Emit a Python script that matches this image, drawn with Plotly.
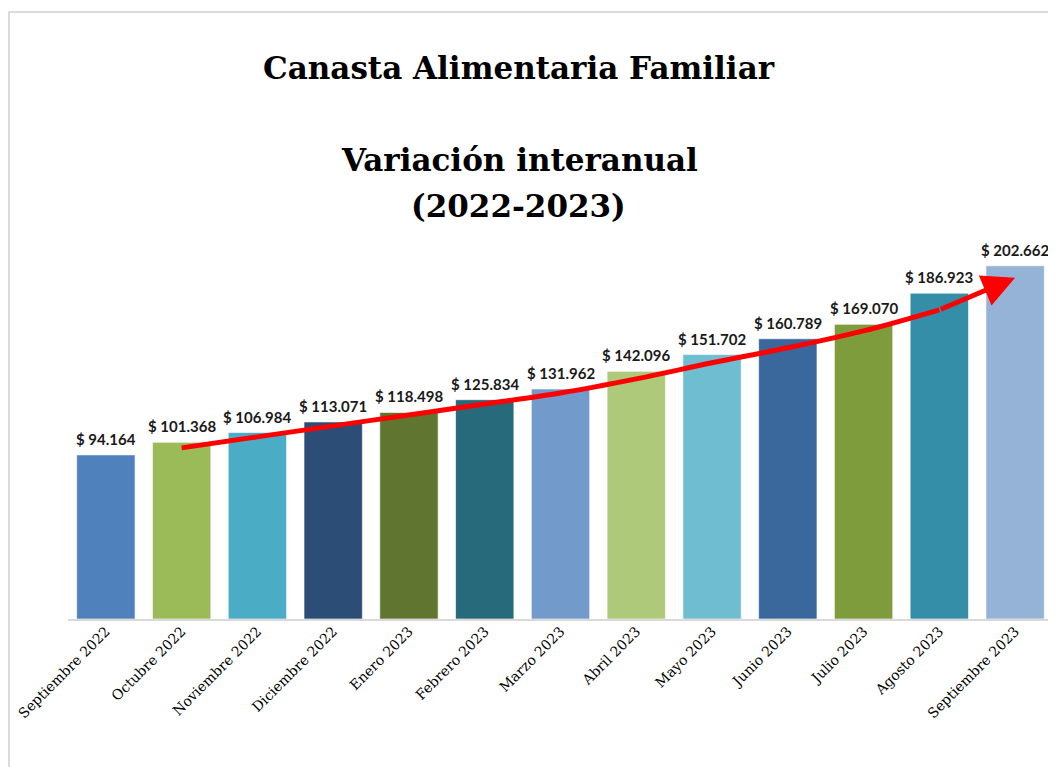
import plotly.graph_objects as go

categories = ["Septiembre 2022", "Octubre 2022", "Noviembre 2022", "Diciembre 2022",
              "Enero 2023", "Febrero 2023", "Marzo 2023", "Abril 2023", "Mayo 2023",
              "Junio 2023", "Julio 2023", "Agosto 2023", "Septiembre 2023"]
values = [94.164, 101.368, 106.984, 113.071, 118.498, 125.834, 131.962,
          142.096, 151.702, 160.789, 169.070, 186.923, 202.662]
labels = ["$ 94.164", "$ 101.368", "$ 106.984", "$ 113.071", "$ 118.498", "$ 125.834",
          "$ 131.962", "$ 142.096", "$ 151.702", "$ 160.789", "$ 169.070", "$ 186.923",
          "$ 202.662"]
bar_colors = ["#4F81BD", "#9BBB59", "#4BACC6", "#2C4D75", "#5F7530", "#276A7C",
              "#729ACA", "#AFC97A", "#6FBDD1", "#3A679C", "#7F9C3D", "#358EA7", "#95B3D7"]
# trend arrow, from Octubre 2022 to Septiembre 2023
trend_categories = categories[1:]
trend_values = [98.2, 104.5, 110.8, 117.1, 123.4, 129.7, 137.8, 147.0, 155.6, 165.3, 177.4, 195.8]

# page has an 8px body margin; figure is sized to fit the window
OFF = 8
W, H = 1056 - OFF, 767 - OFF
L, R, T, B = 68 - OFF, 3, 253 - OFF, 148
plot_w = W - L - R
plot_h = H - T - B

def px_x(x):  # window pixel -> paper
    return (x - OFF - L) / plot_w

def px_y(y):
    return (H - B - (y - OFF)) / plot_h

fig = go.Figure()
fig.add_trace(go.Bar(
    x=categories, y=values, marker=dict(color=bar_colors, line=dict(color="white", width=0.6)),
    width=0.77, showlegend=False, hoverinfo="skip",
))
for c, v, t in zip(categories, values, labels):
    fig.add_annotation(x=c, y=v, text=t, showarrow=False, xanchor="center", yanchor="bottom",
                       yshift=5, font=dict(family="Lato", size=15, color="#1a1a1a", weight="bold"))

fig.add_trace(go.Scatter(
    x=trend_categories[:-1], y=trend_values[:-1], mode="lines",
    line=dict(color="#FF0000", width=5, shape="spline"),
    showlegend=False, hoverinfo="skip",
))
fig.add_annotation(
    x=trend_categories[-1], y=trend_values[-1], xref="x", yref="y",
    axref="x", ayref="y", ax=trend_categories[-2], ay=trend_values[-2],
    showarrow=True, arrowhead=2, arrowsize=1.3, arrowwidth=5, arrowcolor="#FF0000",
    text="", standoff=0,
)

title_font = dict(family="DejaVu Serif", size=31, color="black", weight="bold")
for txt, cx, cy in [("Canasta Alimentaria Familiar", 519, 68),
                    ("Variación interanual", 519, 160),
                    ("(2022-2023)", 518, 206)]:
    fig.add_annotation(text=txt, x=px_x(cx), y=px_y(cy), xref="paper", yref="paper",
                       showarrow=False, font=title_font, xanchor="center", yanchor="middle")

fig.add_shape(type="rect", xref="paper", yref="paper",
              x0=px_x(9), y0=px_y(790), x1=px_x(1070), y1=px_y(12),
              line=dict(color="#D0D0D0", width=1.5), fillcolor="rgba(0,0,0,0)", layer="below")

fig.update_layout(
    width=W, height=H,
    margin=dict(l=L, r=R, t=T, b=B),
    paper_bgcolor="white", plot_bgcolor="white",
    bargap=0.23,
    xaxis=dict(tickangle=-45, tickfont=dict(family="DejaVu Serif", size=14, color="#000"),
               showline=True, linecolor="#D9D9D9", linewidth=1.5, showgrid=False,
               ticks="", fixedrange=True, ticklabelstandoff=-3),
    yaxis=dict(range=[0, 210], visible=False, showgrid=False, fixedrange=True),
)

fig.write_html("out.html")
